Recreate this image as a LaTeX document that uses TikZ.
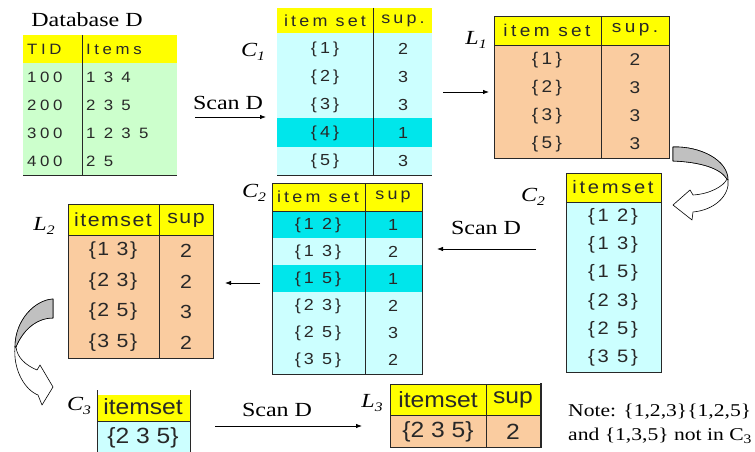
\documentclass[tikz,border=0pt]{standalone}
\usepackage{fontspec}
\setmainfont{Liberation Serif}[FakeStretch=1.2]
\newfontfamily\tsA{Liberation Sans}[FakeStretch=1.12,LetterSpace=20]
\newfontfamily\tsB{Liberation Sans}[FakeStretch=1.12,LetterSpace=24]
\newfontfamily\tsC{Liberation Sans}[FakeStretch=1.12,LetterSpace=15]
\newfontfamily\tsD{Liberation Sans}[FakeStretch=1.12,LetterSpace=8]
\newfontfamily\tsE{Liberation Sans}[FakeStretch=1.12]
\usetikzlibrary{arrows.meta}
\definecolor{hdr}{RGB}{255,255,0}
\definecolor{grn}{RGB}{204,255,204}
\definecolor{lcy}{RGB}{204,255,255}
\definecolor{hcy}{RGB}{0,230,235}
\definecolor{pch}{RGB}{250,204,160}
\definecolor{gry}{RGB}{192,192,192}
\definecolor{ink}{RGB}{40,40,40}
\tikzset{
  tline/.style={draw=ink, line width=0.9pt},
  arr/.style={-{Latex[length=6pt,width=4.5pt]}, line width=0.8pt},
  serif/.style={font=\fontsize{20}{24}\selectfont, inner sep=0pt},
  notetxt/.style={font=\fontsize{18}{22}\selectfont, inner sep=0pt, anchor=west},
  clbl/.style={font=\fontsize{20}{24}\selectfont\itshape, inner sep=0pt},
  cdb/.style={font=\tsB\fontsize{15}{17}\selectfont, text=ink, inner sep=0pt, anchor=west},
  cA/.style={font=\tsA\fontsize{16}{18}\selectfont, text=ink, inner sep=0pt},
  cL/.style={font=\tsA\fontsize{17}{19}\selectfont, text=ink, inner sep=0pt},
  cC/.style={font=\tsC\fontsize{18}{20}\selectfont, text=ink, inner sep=0pt},
  cD/.style={font=\tsD\fontsize{19}{21}\selectfont, text=ink, inner sep=0pt},
  cE/.style={font=\tsE\fontsize{22}{24}\selectfont, text=ink, inner sep=0pt},
  curv/.style={draw=black, line width=0.6pt, line join=round},
}
\newcommand{\subsc}[1]{\raisebox{-0.4ex}{\fontsize{13}{13}\selectfont #1}}
\begin{document}
\begin{tikzpicture}[x=1pt,y=-1pt]
\useasboundingbox[fill=white] (0,0) rectangle (755,452);

% ---------- Database D ----------
\node[serif] (dblabel) at (87,20) {Database D};
\fill[grn] (23,35) rectangle (177,175);
\fill[hdr] (23,35) rectangle (177,63);
\draw[tline] (82,35) -- (82,175);
\draw[tline] (23,175) -- (177,175);
\node[cdb] (dbh1) at (27,49) {TID};
\node[cdb] (dbh2) at (86,49) {Items};
\node[cdb] (db11) at (27,77) {100};
\node[cdb] (db12) at (86,77) {1 3 4};
\node[cdb] (db21) at (27,105) {200};
\node[cdb] (db22) at (86,105) {2 3 5};
\node[cdb] (db31) at (27,133) {300};
\node[cdb] (db32) at (86,133) {1 2 3 5};
\node[cdb] (db41) at (27,161) {400};
\node[cdb] (db42) at (86,161) {2 5};

% ---------- C1 ----------
\fill[lcy] (277,8) rectangle (432,175);
\fill[hdr] (277,8) rectangle (432,33);
\fill[hcy] (277,118) rectangle (432,147);
\draw[tline] (373,8) -- (373,175);
\draw[tline] (277,175) -- (432,175);
\node[cA] (c1h1) at (325,21) {item set};
\node[cA] (c1h2) at (403,21) {sup.};
\node[cA] (c1a1) at (325,49) {\{1\}};   \node[cA] (c1b1) at (403,49) {2};
\node[cA] (c1a2) at (325,77) {\{2\}};   \node[cA] (c1b2) at (403,77) {3};
\node[cA] (c1a3) at (325,105) {\{3\}};  \node[cA] (c1b3) at (403,105) {3};
\node[cA] (c1a4) at (325,133) {\{4\}};  \node[cA] (c1b4) at (403,133) {1};
\node[cA] (c1a5) at (325,161) {\{5\}};  \node[cA] (c1b5) at (403,161) {3};
\node[clbl] (lc1) at (253,52) {C\subsc{1}};

% Scan D -> C1
\node[serif] (scan1) at (228,103) {Scan D};
\coordinate (s1a) at (195,117);
\coordinate (s1b) at (266,117);
\draw[arr] (s1a) -- (s1b);

% ---------- L1 ----------
\fill[pch] (494,16) rectangle (669,158);
\fill[hdr] (494,16) rectangle (669,45);
\draw[tline] (494,16) rectangle (669,158);
\draw[tline] (494,45) -- (669,45);
\draw[tline] (601,16) -- (601,158);
\node[cL] (l1h1) at (547,30) {item set};
\node[cL] (l1h2) at (635,30) {sup.};
\node[cL] (l1a1) at (547,60) {\{1\}};   \node[cL] (l1b1) at (635,60) {2};
\node[cL] (l1a2) at (547,88) {\{2\}};   \node[cL] (l1b2) at (635,88) {3};
\node[cL] (l1a3) at (547,116) {\{3\}};  \node[cL] (l1b3) at (635,116) {3};
\node[cL] (l1a4) at (547,144) {\{5\}};  \node[cL] (l1b4) at (635,144) {3};
\node[clbl] (ll1) at (476,40) {L\subsc{1}};

\coordinate (a2a) at (443,92);
\coordinate (a2b) at (489,92);
\draw[arr] (a2a) -- (a2b);

% curved arrow L1 -> C2
\path[curv, fill=white] (673,147) .. controls (700,146) and (728,160) .. (728,180)
  .. controls (730,195) and (715,210) .. (693,212) -- (692,220) -- (673,205) -- (690,190) -- (693,195)
  .. controls (710,194) and (724,186) .. (727,179)
  .. controls (720,168) and (700,162) .. (673,161) -- cycle;
\path[curv, fill=gry] (673,147) .. controls (700,146) and (728,160) .. (728,180)
  -- (727,179) .. controls (720,168) and (700,162) .. (673,161) -- cycle;

% ---------- C2 (right) ----------
\fill[lcy] (566,173) rectangle (661,372);
\fill[hdr] (566,173) rectangle (661,202);
\draw[tline] (566,173) rectangle (661,372);
\draw[tline] (566,202) -- (661,202);
\node[cC] (c2rh) at (613,187) {itemset};
\node[cC] (c2r1) at (613,217) {\{1 2\}};
\node[cC] (c2r2) at (613,245) {\{1 3\}};
\node[cC] (c2r3) at (613,273) {\{1 5\}};
\node[cC] (c2r4) at (613,302) {\{2 3\}};
\node[cC] (c2r5) at (613,330) {\{2 5\}};
\node[cC] (c2r6) at (613,358) {\{3 5\}};
\node[clbl] (lc2r) at (533,197) {C\subsc{2}};

% Scan D -> C2 (middle)
\node[serif] (scan2) at (486,228) {Scan D};
\coordinate (s2a) at (536,249);
\coordinate (s2b) at (437,249);
\draw[arr] (s2a) -- (s2b);

% ---------- C2 (middle) ----------
\fill[lcy] (272,183) rectangle (422,374);
\fill[hdr] (272,183) rectangle (422,211);
\fill[hcy] (272,211) rectangle (422,238);
\fill[hcy] (272,265) rectangle (422,292);
\draw[tline] (272,183) rectangle (422,374);
\draw[tline] (272,211) -- (422,211);
\draw[tline] (365,183) -- (365,374);
\node[cA] (c2h1) at (318,197) {item set};
\node[cA] (c2h2) at (393,197) {sup};
\node[cA] (c2a1) at (318,225) {\{1 2\}};  \node[cA] (c2b1) at (393,225) {1};
\node[cA] (c2a2) at (318,252) {\{1 3\}};  \node[cA] (c2b2) at (393,252) {2};
\node[cA] (c2a3) at (318,279) {\{1 5\}};  \node[cA] (c2b3) at (393,279) {1};
\node[cA] (c2a4) at (318,306) {\{2 3\}};  \node[cA] (c2b4) at (393,306) {2};
\node[cA] (c2a5) at (318,333) {\{2 5\}};  \node[cA] (c2b5) at (393,333) {3};
\node[cA] (c2a6) at (318,360) {\{3 5\}};  \node[cA] (c2b6) at (393,360) {2};
\node[clbl] (lc2) at (254,193) {C\subsc{2}};

\coordinate (a4a) at (260,283);
\coordinate (a4b) at (225,283);
\draw[arr] (a4a) -- (a4b);

% ---------- L2 ----------
\fill[pch] (68,204) rectangle (213,358);
\fill[hdr] (68,204) rectangle (213,235);
\draw[tline] (68,204) rectangle (213,358);
\draw[tline] (68,235) -- (213,235);
\draw[tline] (159,204) -- (159,358);
\node[cD] (l2h1) at (113,220) {itemset};
\node[cD] (l2h2) at (186,220) {sup};
\node[cD] (l2a1) at (113,251) {\{1 3\}};  \node[cD] (l2b1) at (186,251) {2};
\node[cD] (l2a2) at (113,282) {\{2 3\}};  \node[cD] (l2b2) at (186,282) {2};
\node[cD] (l2a3) at (113,312) {\{2 5\}};  \node[cD] (l2b3) at (186,312) {3};
\node[cD] (l2a4) at (113,343) {\{3 5\}};  \node[cD] (l2b4) at (186,343) {2};
\node[clbl] (ll2) at (44,226) {L\subsc{2}};

% curved arrow L2 -> C3
\path[curv, fill=white] (53,299) .. controls (35,300) and (15,320) .. (15,347)
  .. controls (13,370) and (25,390) .. (38,395) -- (42,405) -- (53,387) -- (40,365) -- (37,370)
  .. controls (25,365) and (17,357) .. (16,347)
  .. controls (22,332) and (35,318) .. (53,318) -- cycle;
\path[curv, fill=gry] (53,299) .. controls (35,300) and (15,320) .. (15,347)
  -- (16,347) .. controls (22,332) and (35,318) .. (53,318) -- cycle;

% ---------- C3 ----------
\fill[lcy] (97,395) rectangle (190,455);
\fill[hdr] (97,395) rectangle (190,421);
\draw[tline] (97,390) -- (97,455);
\draw[tline] (190,390) -- (190,455);
\draw[tline] (97,421) -- (190,421);
\node[cE] (c3h) at (143,407) {itemset};
\node[cE] (c3a) at (143,438) {\{2 3 5\}};
\node[clbl] (lc3) at (79,406) {C\subsc{3}};

% Scan D -> L3
\node[serif] (scan3) at (277,410) {Scan D};
\coordinate (s3a) at (215,426);
\coordinate (s3b) at (362,426);
\draw[arr] (s3a) -- (s3b);

% ---------- L3 ----------
\fill[pch] (390,384) rectangle (541,447);
\fill[hdr] (390,384) rectangle (541,415);
\draw[tline] (390,384) rectangle (541,447);
\draw[tline] (390,415) -- (541,415);
\draw[tline] (486,384) -- (486,447);
\draw[draw=ink, line width=1.8pt] (541,383) -- (541,448);
\node[cE] (l3h1) at (438,400) {itemset};
\node[cE] (l3h2) at (513,400) {sup};
\node[cE] (l3a1) at (438,432) {\{2 3 5\}};
\node[cE] (l3b1) at (513,432) {2};
\node[clbl] (ll3) at (372,403) {L\subsc{3}};

% ---------- Note ----------
\node[notetxt] (note1) at (568,412) {Note: \{1,2,3\}\{1,2,5\}};
\node[notetxt] (note2) at (568,436) {and \{1,3,5\} not in C\subsc{3}};
\end{tikzpicture}
\end{document}
